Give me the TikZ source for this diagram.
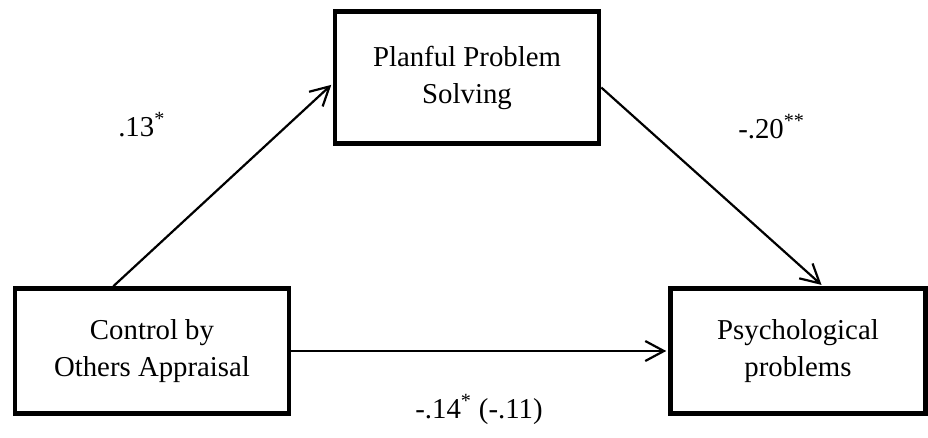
\documentclass[tikz,border=0pt]{standalone}
\usepackage{fontspec}
\setmainfont{Liberation Serif}
\usetikzlibrary{arrows.meta,positioning,calc}
\begin{document}
\begin{tikzpicture}[x=0.75pt,y=-0.75pt,>={Straight Barb[length=14pt,width=15pt]}]
\tikzset{varbox/.style={draw,line width=3.4pt,minimum height=93.75pt,inner sep=0pt,align=center,font=\fontsize{21.6}{27.7}\selectfont}, link/.style={->,line width=1.65pt,shorten >=1.5pt}, coef/.style={font=\fontsize{21.6}{27.7}\selectfont,inner sep=0pt,anchor=base west}}
\useasboundingbox (0,0) rectangle (928,437);
% Variables of the mediation model
\node[varbox,minimum width=205.5pt] (ctrl) at (152,351) {Control by\\Others Appraisal};
\node[varbox,minimum width=198pt,minimum height=99pt] (plan) at (467,77.5) {Planful Problem\\Solving};
\node[varbox,minimum width=191.25pt] (psych) at (798,351) {Psychological\\problems};
% Paths a, b and c
\draw[link] ([xshift=-29pt]ctrl.north) -- ([yshift=-4.5pt]plan.west);
\draw[link] ([yshift=-7.5pt]plan.east) -- ([xshift=18.75pt]psych.north);
\draw[link] (ctrl) -- (psych);
% Path coefficients
\node[coef] (b13) at (118,136) {.13\textsuperscript{*}};
\node[coef] (b20) at (738,138) {-.20\textsuperscript{**}};
\node[coef,anchor=base] (b14) at (479,418) {-.14\textsuperscript{*} (-.11)};
\end{tikzpicture}
\end{document}
